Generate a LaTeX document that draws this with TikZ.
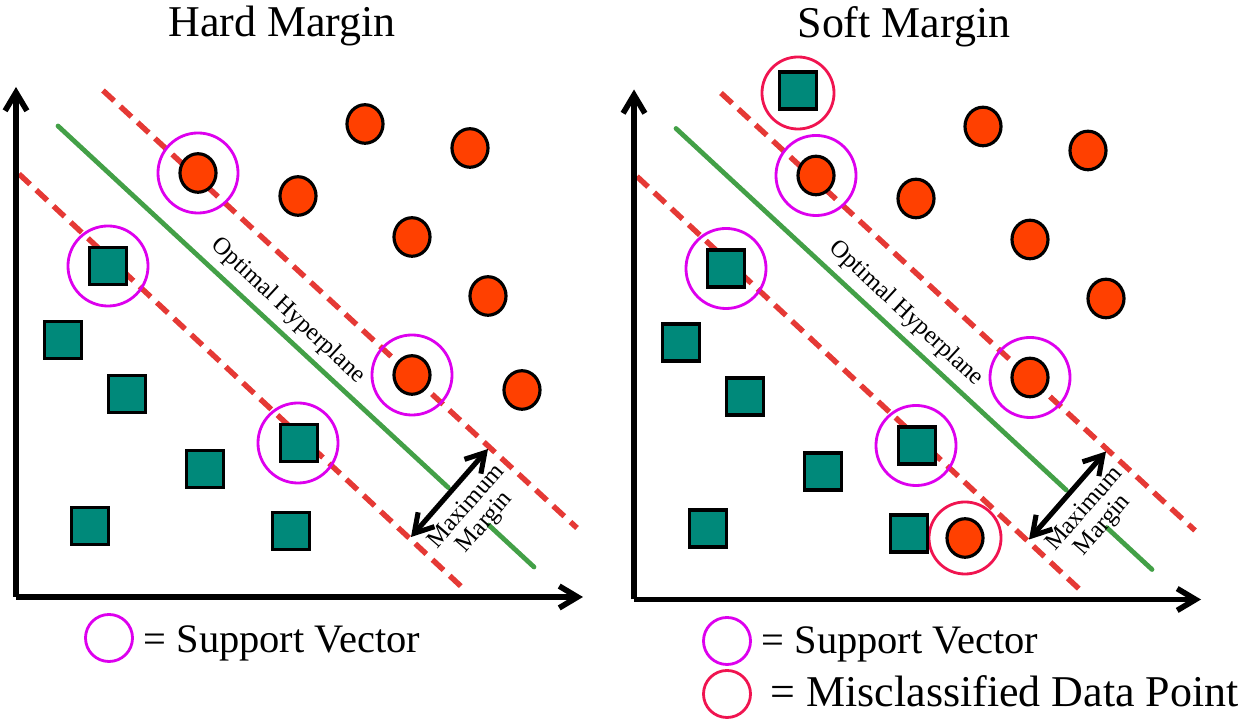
\documentclass[tikz,border=0pt]{standalone}
\usepackage{fontspec}
\setmainfont{Liberation Serif}
\usetikzlibrary{arrows.meta,calc,shapes.geometric}
\definecolor{dotred}{RGB}{255,64,0}
\definecolor{sqteal}{RGB}{0,137,122}
\definecolor{svpink}{RGB}{221,0,238}
\definecolor{mispink}{RGB}{240,20,80}
\definecolor{marginred}{RGB}{229,57,53}
\definecolor{hypgreen}{RGB}{67,160,71}
\tikzset{
  redpt/.style={ellipse,draw=black,line width=.9pt,fill=dotred,minimum width=.36cm,minimum height=.385cm,inner sep=0pt},
  sqpt/.style={rectangle,draw=black,line width=.9pt,fill=sqteal,minimum size=.37cm,inner sep=0pt},
  svring/.style={circle,draw=svpink,line width=.8pt,minimum size=.8cm,inner sep=0pt},
  misring/.style={circle,draw=mispink,line width=.8pt,minimum size=.72cm,inner sep=0pt},
  axis/.style={line width=1.6pt},
  marginline/.style={draw=marginred,line width=1.55pt,dash pattern=on 4.3pt off 2.4pt},
  hyper/.style={draw=hypgreen,line width=1.35pt,line cap=round},
  small/.style={font=\fontsize{7}{6.9}\selectfont,inner sep=0pt,align=center},
  title/.style={font=\fontsize{12.5}{14}\selectfont,inner sep=0pt,anchor=base},
  keytext/.style={inner sep=0pt,anchor=base west}
}
\begin{document}
\begin{tikzpicture}[x=0.01cm,y=-0.01cm,>={Straight Barb[length=5.2pt,width=6.2pt]}]
\useasboundingbox (0,0) rectangle (1248,725);
% titles
\node[title] (hardtitle) at (282,37) {Hard Margin};
\node[title] (softtitle) at (904,38) {Soft Margin};
% hard margin
\begin{scope}
  \coordinate (hO) at (16,597);
  \coordinate (hY) at (16,87);
  \coordinate (hX) at (583,597);
  \coordinate (hG1) at (58,126);
  \coordinate (hG2) at (534,567);
  \coordinate (hU1) at (103,90.5);
  \coordinate (hU2) at (577,528);
  \coordinate (hL1) at (19,174);
  \coordinate (hL2) at (466,591);
  \coordinate (hA1) at (411,537);
  \coordinate (hA2) at (488,449);
  \draw[hyper] (hG1)--($(hG1)!.82!(hG2)$) ($(hG1)!.905!(hG2)$)--(hG2);
  \draw[marginline] (hU1)--(hU2);
  \draw[marginline] (hL1)--(hL2);
  \foreach \x/\y [count=\i] in {198/173,108/266,412/375,298/443}
    \node[svring] (hsv\i) at (\x,\y) {};
  \foreach \x/\y [count=\i] in {365/124,470/148,198/173,298/196,412/237,488/296,412/375,522/390}
    \node[redpt] (hr\i) at (\x,\y) {};
  \foreach \x/\y [count=\i] in {108/266,63/340,127/394,299/443,205/469,90/526,291/531}
    \node[sqpt] (hs\i) at (\x,\y) {};
  \draw[axis,->] (hO)--(hY);
  \draw[axis,->] (hO)--(hX);
  \draw[line width=1.45pt,<->] (hA1)--(hA2);
  \node[small,rotate=-42.8] (hhyp) at (288,311) {Optimal Hyperplane};
  \node[small,rotate=49] (hmax) at (476,515) {Maximum\\Margin};
\end{scope}
% soft margin
\begin{scope}[shift={(618,2.5)}]
  \coordinate (sO) at (16,597);
  \coordinate (sY) at (16,87);
  \coordinate (sX) at (583,597);
  \coordinate (sG1) at (58,126);
  \coordinate (sG2) at (534,567);
  \coordinate (sU1) at (103,90.5);
  \coordinate (sU2) at (577,528);
  \coordinate (sL1) at (19,174);
  \coordinate (sL2) at (466,591);
  \coordinate (sA1) at (411,537);
  \coordinate (sA2) at (488,449);
  \draw[hyper] (sG1)--($(sG1)!.82!(sG2)$) ($(sG1)!.905!(sG2)$)--(sG2);
  \draw[marginline] (sU1)--(sU2);
  \draw[marginline] (sL1)--(sL2);
  \foreach \x/\y [count=\i] in {198/173,108/266,412/375,298/443}
    \node[svring] (ssv\i) at (\x,\y) {};
  \node[misring] (smis1) at (180,90.5) {};
  \node[misring] (smis2) at (347,535.5) {};
  \foreach \x/\y [count=\i] in {365/124,470/148,198/173,298/196,412/237,488/296,412/375,347/535.5}
    \node[redpt] (sr\i) at (\x,\y) {};
  \foreach \x/\y [count=\i] in {180/88,108/266,63/340,127/394,299/443,205/469,90/526,291/531}
    \node[sqpt] (ss\i) at (\x,\y) {};
  \draw[axis,->] (sO)--(sY);
  \draw[axis,->] (sO)--(sX);
  \draw[line width=1.45pt,<->] (sA1)--(sA2);
  \node[small,rotate=-42.8] (shyp) at (288,311) {Optimal Hyperplane};
  \node[small,rotate=49] (smax) at (476,515) {Maximum\\Margin};
\end{scope}
% legends
\node[svring,minimum size=.47cm] (hkeysv) at (109,638) {};
\node[keytext,font=\fontsize{11.5}{13}\selectfont] (hkeysvtext) at (143,653) {= Support Vector};
\node[svring,minimum size=.47cm] (skeysv) at (727,641) {};
\node[keytext,font=\fontsize{11.5}{13}\selectfont] (skeysvtext) at (761,654) {= Support Vector};
\node[misring,minimum size=.47cm] (skeymis) at (727,694) {};
\node[keytext,font=\fontsize{12.5}{14}\selectfont] (skeymistext) at (770,707) {= Misclassified Data Point};
\end{tikzpicture}
\end{document}
